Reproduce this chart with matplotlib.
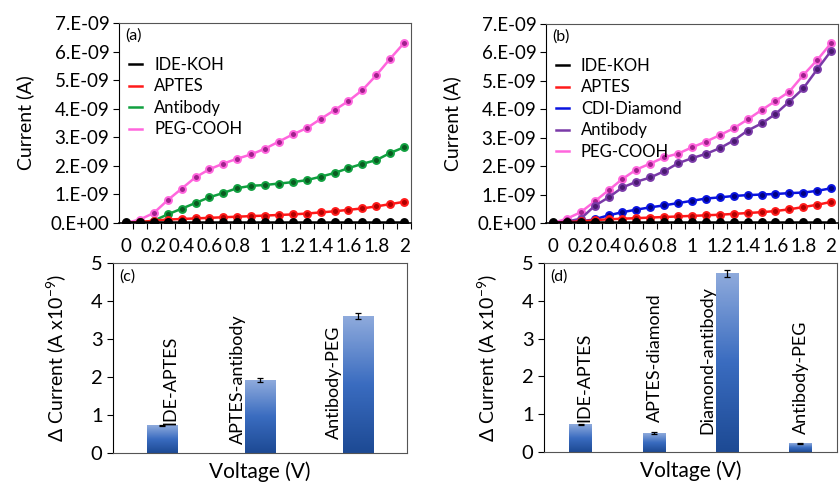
import numpy as np
import matplotlib.pyplot as plt
from matplotlib.colors import LinearSegmentedColormap

plt.rcParams['font.family'] = ['Lato', 'DejaVu Sans']
plt.rcParams['axes.unicode_minus'] = False

voltage_labels = ['0', '0.2', '0.4', '0.6', '0.8', '1', '1.2', '1.4', '1.6', '1.8', '2']
y_top_labels = ['0.E+00', '1.E-09', '2.E-09', '3.E-09', '4.E-09', '5.E-09', '6.E-09', '7.E-09']

# panel (a), current in units of 1e-9 A, at 0, 0.1, ... 2 V
a_kOH = [0.02] * 21
a_aptes = [0.0, 0.03, 0.08, 0.12, 0.14, 0.16, 0.18, 0.2, 0.22, 0.24, 0.26,
           0.28, 0.3, 0.33, 0.37, 0.41, 0.46, 0.51, 0.58, 0.66, 0.74]
a_antibody = [0.0, 0.02, 0.08, 0.3, 0.5, 0.7, 0.9, 1.05, 1.22, 1.3, 1.33,
              1.38, 1.43, 1.5, 1.62, 1.75, 1.92, 2.07, 2.2, 2.45, 2.65]
a_peg = [0.0, 0.12, 0.35, 0.8, 1.2, 1.6, 1.88, 2.08, 2.25, 2.4, 2.6,
         2.85, 3.1, 3.32, 3.64, 3.95, 4.27, 4.65, 5.17, 5.75, 6.3]

# panel (b)
b_kOH = [0.02] * 21
b_aptes = [0.0, 0.03, 0.06, 0.1, 0.13, 0.15, 0.17, 0.19, 0.21, 0.23, 0.25,
           0.27, 0.29, 0.32, 0.35, 0.38, 0.42, 0.48, 0.56, 0.64, 0.74]
b_cdi = [0.0, 0.02, 0.05, 0.13, 0.27, 0.38, 0.47, 0.55, 0.62, 0.7, 0.78,
         0.86, 0.9, 0.95, 0.98, 1.0, 1.02, 1.05, 1.07, 1.13, 1.22]
b_antibody = [0.0, 0.05, 0.15, 0.6, 0.9, 1.25, 1.45, 1.6, 1.82, 2.1, 2.28,
              2.43, 2.63, 2.9, 3.25, 3.5, 3.83, 4.27, 4.73, 5.4, 6.05]
b_peg = [0.0, 0.15, 0.38, 0.76, 1.15, 1.55, 1.88, 2.09, 2.31, 2.44, 2.66,
         2.86, 3.09, 3.33, 3.64, 3.97, 4.29, 4.62, 5.2, 5.73, 6.32]

# panel (c) and (d), delta current (A x1e-9)
c_names = ['IDE-APTES', 'APTES-antibody', 'Antibody-PEG']
c_values = [0.73, 1.92, 3.6]
c_err = [0.02, 0.05, 0.08]
d_names = ['IDE-APTES', 'APTES-diamond', 'Diamond-antibody', 'Antibody-PEG']
d_values = [0.73, 0.5, 4.73, 0.22]
d_err = [0.02, 0.02, 0.1, 0.02]

fig = plt.figure(figsize=(8.4, 4.84), dpi=100)
ax_a = fig.add_axes([0.1417, 0.5393, 0.3476, 0.4132])
ax_b = fig.add_axes([0.650, 0.5393, 0.3476, 0.4112])
ax_c = fig.add_axes([0.1345, 0.064, 0.350, 0.3926])
ax_d = fig.add_axes([0.6476, 0.066, 0.349, 0.3904])

x = np.arange(21)


def line_panel(ax, series, tag):
    for vals, color, dark, name in series[::-1]:
        ax.plot(x, np.array(vals) * 1e-9, color=color, lw=1.8, marker='o', ms=5,
                mfc=dark, mec=color, mew=1.4, label=name)
    ax.set_xlim(-0.5, 20.5)
    ax.set_ylim(0, 7e-9)
    ax.set_yticks(np.arange(8) * 1e-9)
    ax.set_yticklabels(y_top_labels, fontsize=13.5)
    ax.set_xticks(x[::2])
    ax.set_xticklabels(voltage_labels, fontsize=13.5)
    ax.set_xticks(np.arange(21) + 0.5, minor=True)
    ax.tick_params(axis='x', which='major', length=0, pad=11)
    ax.tick_params(axis='x', which='minor', length=4, direction='out', width=0.8)
    ax.tick_params(axis='y', length=4, direction='out', width=0.8, pad=3)
    ax.set_ylabel('Current (A)', fontsize=14, labelpad=12)
    for side in ['top', 'right']:
        ax.spines[side].set_color('#555555')
        ax.spines[side].set_linewidth(0.8)
    ax.spines['left'].set_linewidth(0.8)
    ax.spines['bottom'].set_linewidth(1.2)
    ax.text(0.02, 0.975, tag, transform=ax.transAxes, fontsize=11.5, va='top')
    handles, labels = ax.get_legend_handles_labels()
    leg = ax.legend(handles[::-1], labels[::-1], loc='upper left',
                    bbox_to_anchor=(0.0, 0.88), frameon=False, fontsize=12,
                    handlelength=0.8, handletextpad=0.7, labelspacing=0.33,
                    borderaxespad=0.2)
    for h in leg.get_lines():
        h.set_marker('')


line_panel(ax_a, [(a_kOH, 'black', 'black', 'IDE-KOH'),
                  (a_aptes, '#ff1a1a', '#b00000', 'APTES'),
                  (a_antibody, '#11a040', '#0a5a20', 'Antibody'),
                  (a_peg, '#ff66dd', '#a0208c', 'PEG-COOH')], '(a)')
line_panel(ax_b, [(b_kOH, 'black', 'black', 'IDE-KOH'),
                  (b_aptes, '#ff1a1a', '#b00000', 'APTES'),
                  (b_cdi, '#0a14e0', '#000080', 'CDI-Diamond'),
                  (b_antibody, '#7a3aa8', '#4a1a70', 'Antibody'),
                  (b_peg, '#ff66dd', '#a0208c', 'PEG-COOH')], '(b)')

grad = LinearSegmentedColormap.from_list('g', ['#1d4a94', '#3a6cc0', '#8eaadc'])


def bar_panel(ax, names, values, errs, label_pos, tag):
    n = len(names)
    w = 0.31
    for i, (v, e) in enumerate(zip(values, errs)):
        ax.imshow(np.linspace(0, 1, 100).reshape(-1, 1), cmap=grad, origin='lower',
                  extent=[i - w / 2, i + w / 2, 0, v], aspect='auto', zorder=2)
        ax.errorbar(i, v, yerr=e, fmt='none', ecolor='black', elinewidth=0.9,
                    capsize=2, capthick=0.9, zorder=3)
        dx, yb = label_pos[i]
        ax.text(i + dx, yb, names[i], rotation=90, ha='center', va='bottom',
                fontsize=13)
    ax.set_xlim(-0.5, n - 0.5)
    ax.set_ylim(0, 5)
    ax.set_xticks([])
    ax.set_yticks(range(6))
    ax.tick_params(axis='y', labelsize=14.5, length=4, direction='out', width=0.8)
    ax.set_xlabel('Voltage (V)', fontsize=15, labelpad=6)
    ax.set_ylabel('Δ Current (A x10$^{\\mathregular{-9}}$)', fontsize=14, labelpad=16)
    for side in ['top', 'right']:
        ax.spines[side].set_color('#555555')
        ax.spines[side].set_linewidth(0.8)
    ax.spines['left'].set_linewidth(0.8)
    ax.spines['bottom'].set_color('#555555')
    ax.text(0.02, 0.965, tag, transform=ax.transAxes, fontsize=11.5, va='top')


bar_panel(ax_c, c_names, c_values, c_err,
          [(0.085, 0.75), (-0.22, 0.25), (-0.25, 0.38)], '(c)')
bar_panel(ax_d, d_names, d_values, d_err,
          [(0.05, 0.8), (0.02, 0.8), (-0.27, 0.47), (0.01, 0.47)], '(d)')

fig.savefig('out.png', dpi=100)
